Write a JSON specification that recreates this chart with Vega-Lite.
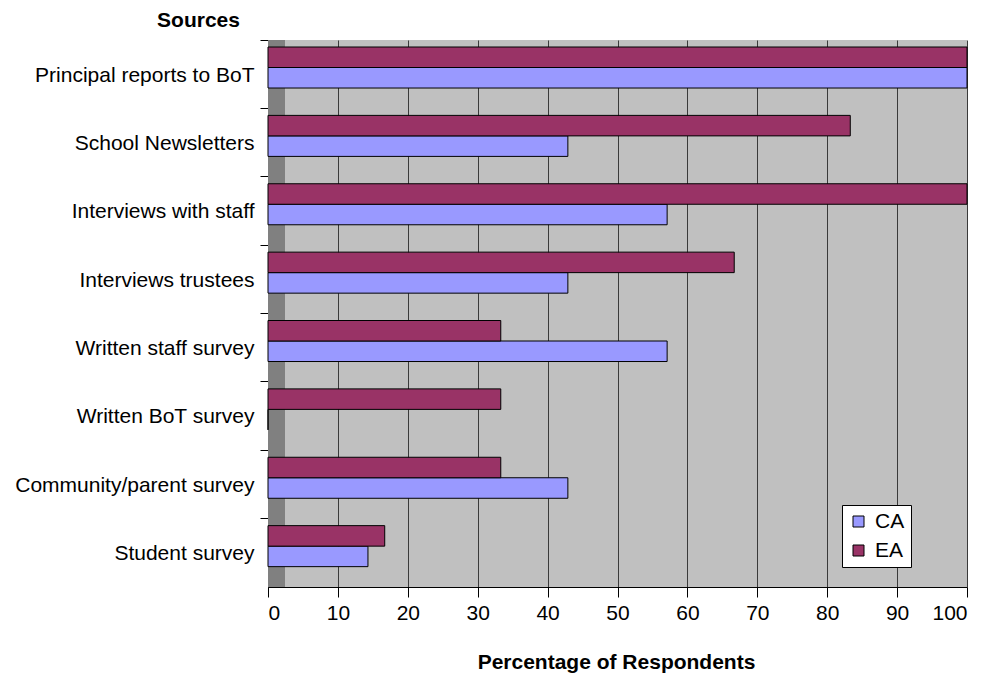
{
  "$schema": "https://vega.github.io/schema/vega-lite/v6.json",
  "width": 699,
  "height": 547,
  "autosize": "none",
  "padding": {"left": 268, "top": 40, "right": 15, "bottom": 90},
  "background": "white",
  "config": {
    "font": "Liberation Sans",
    "view": {"fill": "#C0C0C0", "stroke": null}
  },
  "data": {
    "values": [
      {"source": "Principal reports to BoT", "group": "CA", "pct": 100},
      {"source": "Principal reports to BoT", "group": "EA", "pct": 100},
      {"source": "School Newsletters", "group": "CA", "pct": 42.9},
      {"source": "School Newsletters", "group": "EA", "pct": 83.3},
      {"source": "Interviews with staff", "group": "CA", "pct": 57.1},
      {"source": "Interviews with staff", "group": "EA", "pct": 100},
      {"source": "Interviews trustees", "group": "CA", "pct": 42.9},
      {"source": "Interviews trustees", "group": "EA", "pct": 66.7},
      {"source": "Written staff survey", "group": "CA", "pct": 57.1},
      {"source": "Written staff survey", "group": "EA", "pct": 33.3},
      {"source": "Written BoT survey", "group": "CA", "pct": 0},
      {"source": "Written BoT survey", "group": "EA", "pct": 33.3},
      {"source": "Community/parent survey", "group": "CA", "pct": 42.9},
      {"source": "Community/parent survey", "group": "EA", "pct": 33.3},
      {"source": "Student survey", "group": "CA", "pct": 14.3},
      {"source": "Student survey", "group": "EA", "pct": 16.7}
    ]
  },
  "resolve": {"axis": {"y": "independent"}},
  "layer": [
    {
      "mark": {"type": "rect", "color": "#808080"},
      "encoding": {
        "x": {"datum": 0, "type": "quantitative"},
        "x2": {"datum": 2.4}
      }
    },
    {
      "mark": {"type": "rule", "opacity": 0},
      "encoding": {
        "y": {
          "field": "source",
          "type": "nominal",
          "sort": null,
          "scale": {"paddingInner": 0.4, "paddingOuter": 0.2, "align": 0.256},
          "axis": {
            "orient": "left",
            "bandPosition": -0.1706,
            "labels": false,
            "title": null,
            "ticks": true,
            "tickSize": 8,
            "tickColor": "black",
            "domain": true,
            "domainColor": "black",
            "grid": false
          }
        }
      }
    },
    {
      "mark": {"type": "bar", "stroke": "black", "strokeWidth": 1},
      "encoding": {
        "y": {
          "field": "source",
          "type": "nominal",
          "sort": null,
          "axis": {
            "orient": "left",
            "ticks": false,
            "domain": false,
            "labelFontSize": 21,
            "labelColor": "black",
            "labelPadding": 14,
            "labelOffset": 8,
            "labelLimit": 300,
            "title": "Sources",
            "titleFontSize": 21,
            "titleFontWeight": "bold",
            "titleColor": "black",
            "titleAngle": 0,
            "titleAlign": "center",
            "titleBaseline": "middle",
            "titleX": -70,
            "titleY": -20
          }
        },
        "yOffset": {"field": "group", "sort": ["EA", "CA"]},
        "x": {
          "field": "pct",
          "type": "quantitative",
          "scale": {"domain": [0, 100], "nice": false},
          "axis": {
            "values": [0, 10, 20, 30, 40, 50, 60, 70, 80, 90, 100],
            "labelFontSize": 21,
            "labelColor": "black",
            "labelPadding": 5,
            "tickSize": 10,
            "tickColor": "black",
            "domainColor": "black",
            "grid": true,
            "gridColor": "#3a3a3a",
            "gridWidth": 1,
            "title": "Percentage of Respondents",
            "titleFontSize": 21,
            "titleFontWeight": "bold",
            "titleColor": "black",
            "titleBaseline": "middle",
            "titleX": 348,
            "titleY": 75
          }
        },
        "color": {
          "field": "group",
          "type": "nominal",
          "scale": {"domain": ["CA", "EA"], "range": ["#9999FF", "#993366"]},
          "legend": {
            "title": null,
            "orient": "none",
            "legendX": 574,
            "legendY": 465,
            "symbolType": "square",
            "symbolSize": 121,
            "symbolStrokeColor": "black",
            "symbolStrokeWidth": 1,
            "labelFontSize": 21,
            "labelColor": "black",
            "labelOffset": 6,
            "rowPadding": 7,
            "padding": 6,
            "fillColor": "white",
            "strokeColor": "black"
          }
        }
      }
    }
  ]
}
